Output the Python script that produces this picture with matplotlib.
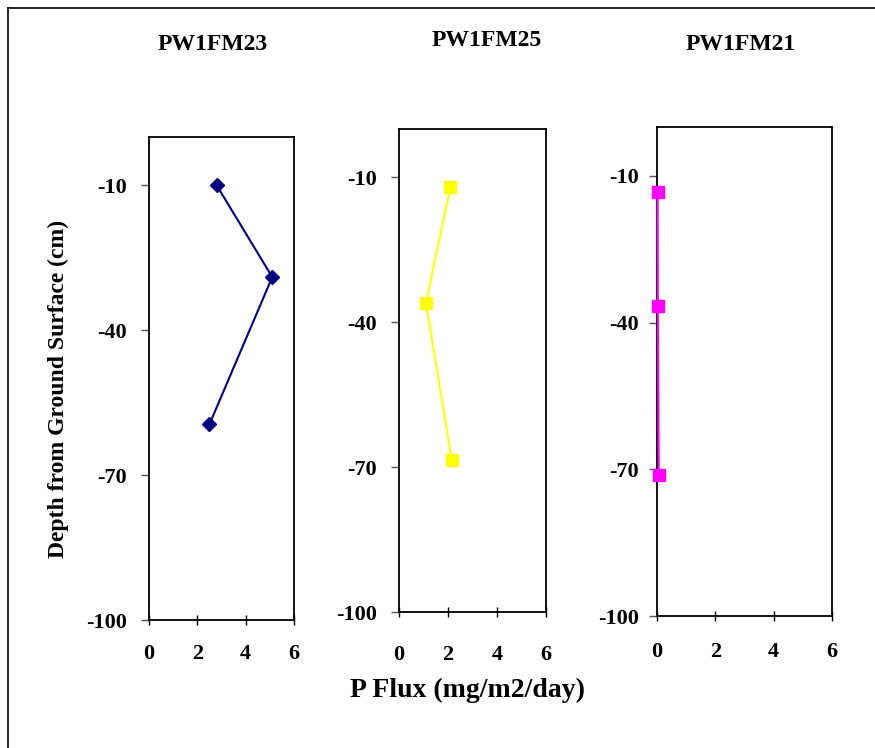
import matplotlib
matplotlib.use('Agg')
import matplotlib.pyplot as plt
from matplotlib.lines import Line2D

plt.rcParams['font.family'] = 'Liberation Serif'
plt.rcParams['font.weight'] = 'bold'
plt.rcParams['axes.unicode_minus'] = False

# P flux (mg/m2/day) vs depth (cm)
titles = ['PW1FM23', 'PW1FM25', 'PW1FM21']
flux_23 = [2.8, 5.1, 2.5]
depth_23 = [-10, -29, -59.5]
flux_25 = [2.1, 1.1, 2.15]
depth_25 = [-12, -36, -68.5]
flux_21 = [0.02, 0.03, 0.06]
depth_21 = [-13.3, -36.6, -71.2]

yticks = [-10, -40, -70, -100]
xticks = [0, 2, 4, 6]

W, H = 875, 748
fig = plt.figure(figsize=(W / 100, H / 100), dpi=100)

def box(l, r, t, b):
    return [l / W, 1 - b / H, (r - l) / W, (b - t) / H]

panels = [
    (box(149, 294, 137, 620), flux_23, depth_23, '#000080', 'D', 7, 14, 10),
    (box(399, 546, 129, 612), flux_25, depth_25, '#FFFF00', 's', 9, 20, 10),
    (box(657, 832, 127, 616), flux_21, depth_21, '#FF00FF', 's', 8, 15, 7),
]
title_pos = [(213, 44), (487, 40), (741, 45)]

for i, (rect, x, y, col, mk, ms, xpad, ypad) in enumerate(panels):
    ax = fig.add_axes(rect)
    ax.plot(x, y, color=col, marker=mk, markersize=ms, lw=1.5, clip_on=False, zorder=5)
    ax.set_xlim(0, 6)
    ax.set_ylim(-100, 0)
    ax.set_xticks(xticks)
    ax.set_yticks(yticks)
    ax.tick_params(axis='x', direction='inout', length=7, width=1, labelsize=16, pad=xpad)
    ax.tick_params(axis='y', direction='out', length=6, width=1, labelsize=16, pad=ypad, color='#555555')
    for s in ax.spines.values():
        s.set_linewidth(1.3)
    tx, ty = title_pos[i]
    fig.text(tx / W, 1 - ty / H, titles[i], ha='center', va='center', fontsize=17, fontweight='bold')

fig.text(58 / W, 1 - 389 / H, 'Depth from Ground Surface (cm)', rotation=90,
         ha='center', va='center', fontsize=17, fontweight='bold')
fig.text(468 / W, 1 - 690 / H, 'P Flux (mg/m2/day)', ha='center', va='center',
         fontsize=20, fontweight='bold')

# outer frame (left and top edges visible)
fig.add_artist(Line2D([8 / W, 8 / W], [0, 1 - 8 / H], color='black', lw=1.2, transform=fig.transFigure))
fig.add_artist(Line2D([8 / W, 1], [1 - 8 / H, 1 - 8 / H], color='black', lw=1.2, transform=fig.transFigure))

fig.savefig('out.png', dpi=100)
